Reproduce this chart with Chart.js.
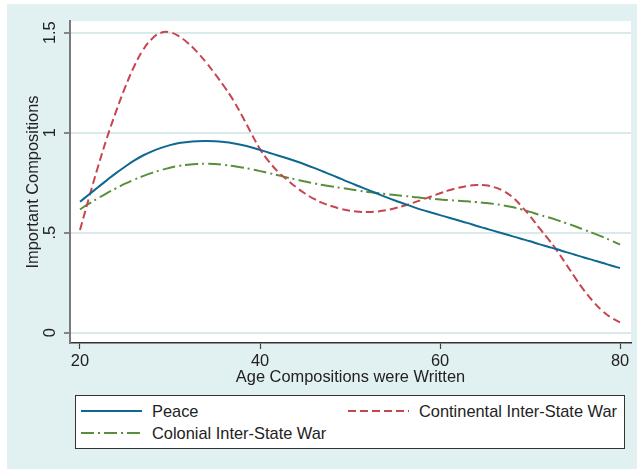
<!DOCTYPE html>
<html>
<head>
<meta charset="utf-8">
<script src="https://cdn.jsdelivr.net/npm/chart.js@4/dist/chart.umd.min.js"></script>
<style>
  body { margin: 0; background: #fff; }
  #wrap { position: relative; width: 637px; height: 469px; }
  #frame { position: absolute; left: 7px; top: 4px; right: 0; bottom: 0; background: #e1f0f0; }
  #myChart { position: absolute; left: 0; top: 0; }
  #legend { position: absolute; left: 75px; top: 395px; width: 548px; height: 52px;
            border: 1px solid #333; background: #fff;
            font: 16.4px "Liberation Sans", Arial, sans-serif; color: #222; }
  .item { position: absolute; display: flex; align-items: center; height: 20px; margin-top: -10px; white-space: nowrap; }
  .item svg { margin-right: 10px; }
</style>
</head>
<body>
<div id="wrap">
  <div id="frame"></div>
  <canvas id="myChart" width="637" height="469"></canvas>
  <div id="legend"></div>
</div>
<script>
const ages = [];
for (let a = 20; a <= 80; a++) ages.push(a);

const peace = [
  0.655, 0.691, 0.727, 0.763, 0.798, 0.83, 0.86, 0.886, 0.907, 0.924,
  0.938, 0.948, 0.954, 0.957, 0.958, 0.957, 0.953, 0.947, 0.938, 0.927,
  0.914, 0.9, 0.886, 0.872, 0.857, 0.841, 0.824, 0.806, 0.788, 0.769,
  0.75, 0.732, 0.714, 0.696, 0.678, 0.661, 0.645, 0.629, 0.614, 0.601,
  0.588, 0.575, 0.562, 0.549, 0.535, 0.522, 0.509, 0.496, 0.483, 0.47,
  0.457, 0.443, 0.43, 0.417, 0.403, 0.39, 0.376, 0.363, 0.35, 0.336,
  0.323
];
const continental = [
  0.513, 0.675, 0.83, 0.975, 1.105, 1.225, 1.33, 1.413, 1.47, 1.5,
  1.502, 1.482, 1.448, 1.404, 1.352, 1.294, 1.232, 1.165, 1.085, 1.0,
  0.918, 0.855, 0.805, 0.765, 0.728, 0.696, 0.669, 0.648, 0.632, 0.619,
  0.61, 0.605, 0.603, 0.606, 0.612, 0.622, 0.635, 0.649, 0.665, 0.681,
  0.697, 0.712, 0.724, 0.733, 0.738, 0.737, 0.728, 0.71, 0.68, 0.635,
  0.583, 0.525, 0.47, 0.41, 0.343, 0.276, 0.212, 0.157, 0.111, 0.076,
  0.052
];
const colonial = [
  0.617, 0.645, 0.672, 0.698, 0.722, 0.745, 0.765, 0.783, 0.799, 0.813,
  0.825, 0.834, 0.84, 0.844, 0.845, 0.843, 0.839, 0.833, 0.826, 0.818,
  0.808, 0.798, 0.787, 0.776, 0.766, 0.756, 0.747, 0.738, 0.731, 0.724,
  0.717, 0.71, 0.704, 0.698, 0.693, 0.688, 0.684, 0.679, 0.674, 0.67,
  0.666, 0.663, 0.66, 0.657, 0.653, 0.649, 0.644, 0.637, 0.628, 0.617,
  0.604, 0.59, 0.577, 0.563, 0.548, 0.532, 0.515, 0.498, 0.48, 0.461,
  0.44
];

const xTicks = [20, 40, 60, 80];
const yTicks = [0, 0.5, 1, 1.5];
const yLabels = ['0', '.5', '1', '1.5'];

const FONT = '"Liberation Sans", Arial, sans-serif';
const FS = 16.4;

function pts(vals) {
  return vals.map((v, i) => ({ x: ages[i], y: v }));
}

const plotBg = {
  id: 'plotBg',
  beforeDraw(chart) {
    const { ctx, chartArea: a } = chart;
    ctx.save();
    ctx.fillStyle = '#fff';
    ctx.fillRect(a.left, a.top, a.right - a.left, a.bottom - a.top);
    ctx.restore();
  }
};

const ctx = document.getElementById('myChart').getContext('2d');
const ch = new Chart(ctx, {
  type: 'line',
  data: {
    datasets: [
      { label: 'Peace', data: pts(peace), borderColor: '#0f6891', borderWidth: 2, borderDash: [] },
      { label: 'Continental Inter-State War', data: pts(continental), borderColor: '#c9444f', borderWidth: 2, borderDash: [8, 4] },
      { label: 'Colonial Inter-State War', data: pts(colonial), borderColor: '#5b8e3c', borderWidth: 2, borderDash: [13, 4, 2, 4] }
    ]
  },
  options: {
    responsive: false,
    animation: false,
    elements: { point: { radius: 0 }, line: { tension: 0.4 } },
    layout: { padding: { left: 0, top: 21, right: 6, bottom: 82 } },
    plugins: { legend: { display: false }, tooltip: { enabled: false } },
    scales: {
      x: {
        type: 'linear',
        min: 18.89,
        max: 81.22,
        afterBuildTicks: s => { s.ticks = xTicks.map(v => ({ value: v })); },
        afterFit: s => { s.height = 44; },
        grid: { drawOnChartArea: false, drawTicks: true, tickLength: 6, tickColor: '#444', tickWidth: 1.2 },
        border: { display: true, color: '#333', width: 1.5 },
        ticks: { color: '#222', font: { family: FONT, size: FS }, padding: 3, maxRotation: 0, autoSkip: false },
        title: { display: true, text: 'Age Compositions were Written', color: '#222',
                 font: { family: FONT, size: FS }, padding: { top: 0, bottom: 0 } }
      },
      y: {
        min: -0.0515,
        max: 1.5585,
        afterBuildTicks: s => { s.ticks = yTicks.map(v => ({ value: v })); },
        afterFit: s => { s.width = 70; },
        grid: { color: '#d8eaea', lineWidth: 2, drawTicks: true, tickLength: 6, tickColor: '#444', tickWidth: 1.2 },
        border: { display: true, color: '#7a7a7a', width: 2 },
        ticks: {
          color: '#222', font: { family: FONT, size: FS }, padding: 2,
          minRotation: 90, maxRotation: 90, crossAlign: 'center', autoSkip: false,
          callback: v => yLabels[yTicks.indexOf(v)]
        },
        title: { display: true, text: 'Important Compositions', color: '#222',
                 font: { family: FONT, size: FS }, padding: { top: 24, bottom: 0 } }
      }
    }
  },
  plugins: [plotBg]
});

// legend box in two columns, like the original
const legendPos = [
  { left: 5, top: 15 },
  { left: 272, top: 15 },
  { left: 5, top: 37 }
];
const legend = document.getElementById('legend');
ch.data.datasets.forEach((ds, i) => {
  const p = legendPos[i];
  const dash = ds.borderDash.length ? ds.borderDash.join(',') : 'none';
  const el = document.createElement('div');
  el.className = 'item';
  el.style.left = p.left + 'px';
  el.style.top = p.top + 'px';
  el.innerHTML = '<svg width="61" height="4"><line x1="0" y1="2" x2="61" y2="2" stroke="' + ds.borderColor +
    '" stroke-width="2" stroke-dasharray="' + dash + '"/></svg><span>' + ds.label + '</span>';
  legend.appendChild(el);
});
</script>
</body>
</html>
